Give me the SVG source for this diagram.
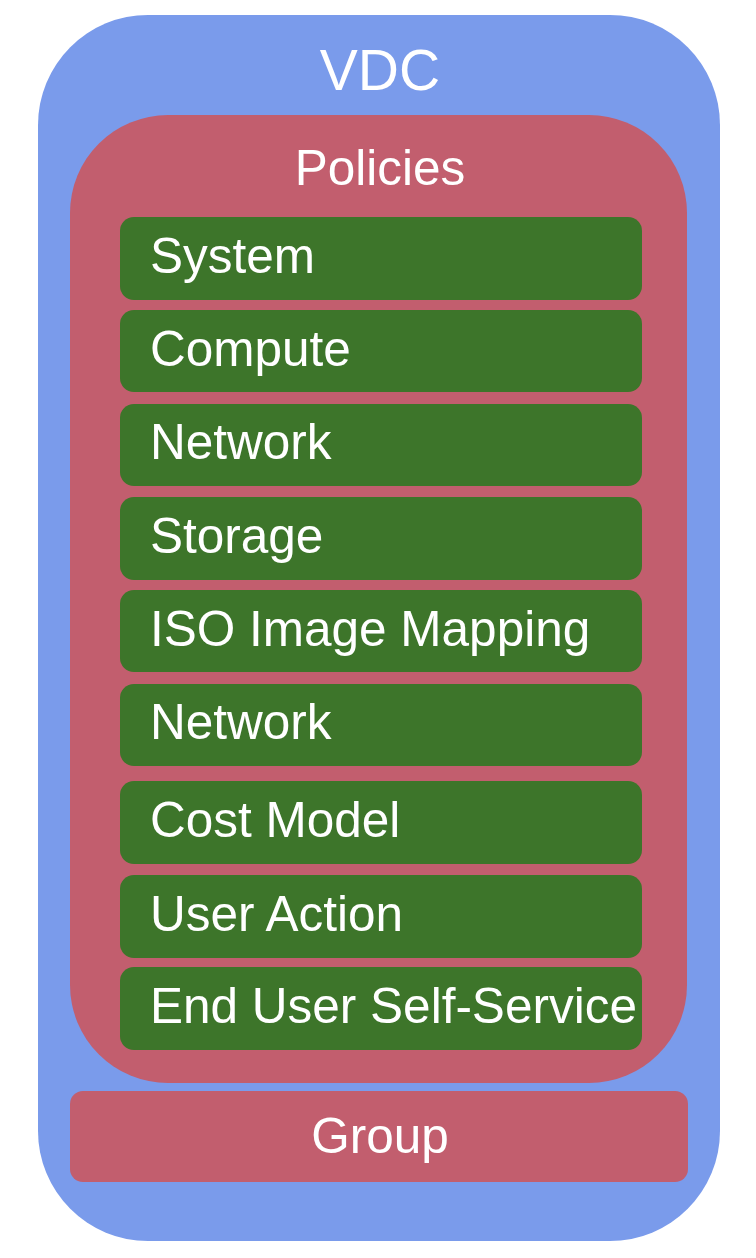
<svg xmlns="http://www.w3.org/2000/svg" width="756" height="1258" viewBox="0 0 756 1258">
<style>
.t{font-family:"Liberation Sans",Arial,sans-serif;fill:#fff}
.c{text-anchor:middle}
.g{fill:#3D752A}
.r{fill:#C25E6E}
.s{font-size:49.5px}
</style>
<rect width="756" height="1258" fill="#fff"/>
<g id="vdc">
<rect x="38" y="15" width="682" height="1226" rx="110" ry="110" fill="#7A9BEB"/>
<text class="t c" x="380" y="90" font-size="57">VDC</text>
</g>
<g id="policies">
<rect class="r" x="70" y="115" width="617" height="968" rx="98" ry="98"/>
<text class="t c s" x="380" y="185">Policies</text>
</g>
<g id="system"><rect class="g" x="120" y="217" width="522" height="83" rx="14"/><text class="t s" x="150" y="273">System</text></g>
<g id="compute"><rect class="g" x="120" y="310" width="522" height="82" rx="14"/><text class="t s" x="150" y="366">Compute</text></g>
<g id="network1"><rect class="g" x="120" y="404" width="522" height="82" rx="14"/><text class="t s" x="150" y="459">Network</text></g>
<g id="storage"><rect class="g" x="120" y="497" width="522" height="83" rx="14"/><text class="t s" x="150" y="553">Storage</text></g>
<g id="iso"><rect class="g" x="120" y="590" width="522" height="82" rx="14"/><text class="t s" x="150" y="646">ISO Image Mapping</text></g>
<g id="network2"><rect class="g" x="120" y="684" width="522" height="82" rx="14"/><text class="t s" x="150" y="739">Network</text></g>
<g id="cost"><rect class="g" x="120" y="781" width="522" height="83" rx="14"/><text class="t s" x="150" y="837">Cost Model</text></g>
<g id="useraction"><rect class="g" x="120" y="875" width="522" height="83" rx="14"/><text class="t s" x="150" y="931">User Action</text></g>
<g id="enduser"><rect class="g" x="120" y="967" width="522" height="83" rx="14"/><text class="t s" x="150" y="1023">End User Self-Service</text></g>
<g id="group">
<rect class="r" x="70" y="1091" width="618" height="91" rx="13"/>
<text class="t c s" x="380" y="1153">Group</text>
</g>
<g id="connectors"/>
</svg>
